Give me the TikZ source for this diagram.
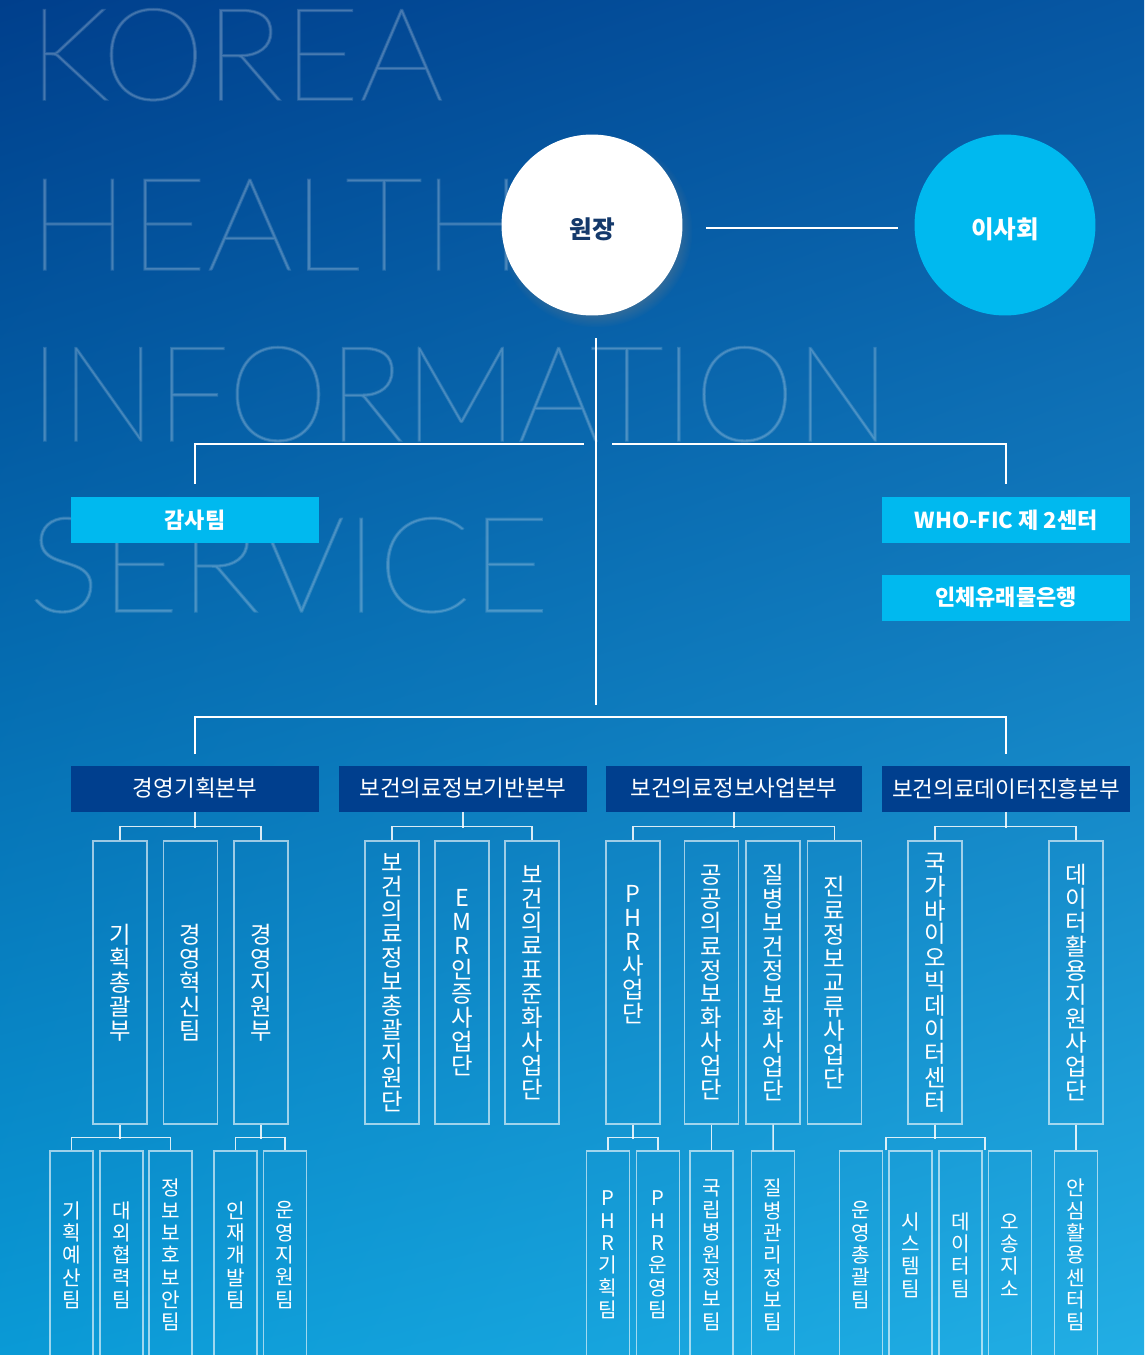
\documentclass[tikz,border=0pt]{standalone}
\usepackage{fontspec}
\usepackage{graphicx}
\setmainfont{Noto Sans CJK KR}
\IfFontExistsTF{Lato Thin}{\newfontfamily\wmfont{Lato Thin}[FakeBold=1.5]}{%
  \IfFontExistsTF{Lato Hairline}{\newfontfamily\wmfont{Lato Hairline}[FakeBold=2]}{%
    \IfFontExistsTF{Poppins Thin}{\newfontfamily\wmfont{Poppins Thin}}{\newfontfamily\wmfont{DejaVu Sans}}}}
\usetikzlibrary{calc,shadows,shadings}
\definecolor{bgtl}{HTML}{003F8C}
\definecolor{bgtr}{HTML}{0657A3}
\definecolor{bgbl}{HTML}{0A9AD6}
\definecolor{bgbr}{HTML}{22AEE4}
\definecolor{khisky}{HTML}{00B9EF}
\definecolor{khinavy}{HTML}{003F8E}
\definecolor{khiink}{HTML}{14396B}

\tikzset{
  wire/.style={white, line width=0.035cm},
  thinwire/.style={white, opacity=.85, line width=0.03cm},
  skybox/.style={fill=khisky, text=white, minimum width=4.96cm, minimum height=0.92cm, inner sep=0pt, font=\fontsize{12.5}{14}\selectfont\bfseries},
  navybox/.style={fill=khinavy, text=white, minimum width=4.96cm, minimum height=0.92cm, inner sep=0pt, font=\fontsize{12.8}{14}\selectfont},
  unitbox/.style={draw=white, draw opacity=.6, line width=0.03cm, text=white, minimum width=1.08cm, minimum height=5.66cm, inner sep=0pt, align=center, font=\fontsize{13.3}{13.6}\selectfont},
  teambox/.style={draw=white, draw opacity=.6, line width=0.03cm, text=white, minimum width=0.86cm, minimum height=4.16cm, inner sep=0pt, align=center, font=\fontsize{11.5}{12.7}\selectfont},
  watermark/.style={text=white, opacity=.15, inner sep=0pt, font=\wmfont},
  headcircle/.style={circle, minimum size=3.62cm, inner sep=0pt, font=\fontsize{14}{15}\selectfont\bfseries, text height=15pt, text depth=0pt}
}

\begin{document}
\begin{tikzpicture}[x=0.02cm, y=-0.02cm]
  \clip (0,0) rectangle (1144,1355);
  \shade[upper left=bgtl, upper right=bgtr, lower left=bgbl, lower right=bgbr] (0,0) rectangle (1144,1355);

  % lettering behind the chart
  \node[watermark, anchor=south west] (wkorea) at (28,101) {\resizebox{8.3cm}{1.82cm}{KOREA}};
  \node[watermark, anchor=south west] (whealth) at (28,270) {\resizebox{9.88cm}{1.8cm}{HEALTH}};
  \node[watermark, anchor=south west] (winfo) at (29,442) {\resizebox{17.22cm}{1.88cm}{INFORMATION}};
  \node[watermark, anchor=south west] (wservice) at (28,613) {\resizebox{10.42cm}{1.88cm}{SERVICE}};

  % top
  \node[headcircle, fill=white, circular drop shadow={shadow xshift=2pt, shadow yshift=-3pt, shadow scale=1.07, opacity=.35}, text=khiink] (boss) at (592,225) {원장};
  \node[headcircle, fill=khisky, text=white] (board) at (1005,225) {이사회};
  \draw[wire] ([xshift=0.46cm,yshift=-0.06cm]boss.east) -- ([xshift=-0.32cm,yshift=-0.06cm]board.west);

  \coordinate (trunktop) at (596,338);
  \coordinate (trunkend) at (596,705);
  \coordinate (lgap) at (584,444);
  \coordinate (rgap) at (612,444);
  \draw[wire] (trunktop) -- (trunkend);

  \node[skybox] (audit) at (195,520) {감사팀};
  \node[skybox] (whofic) at (1006,520) {WHO-FIC 제 2센터};
  \node[skybox] (biobank) at (1006,597.5) {인체유래물은행};
  \draw[wire] ([yshift=0.26cm]audit.north) |- (lgap);
  \draw[wire] ([yshift=0.26cm]whofic.north) |- (rgap);

  % 본부
  \node[navybox] (d1) at (195,788.5) {경영기획본부};
  \node[navybox] (d2) at (463,788.5) {보건의료정보기반본부};
  \node[navybox, minimum width=5.12cm] (d3) at (734,788.5) {보건의료정보사업본부};
  \node[navybox] (d4) at (1006,788.5) {보건의료데이터진흥본부};
  \draw[wire] ([yshift=0.22cm]d1.north) -- ++(0,-37) -| ([yshift=0.22cm]d4.north);

  % 부, 단
  \node[unitbox] (u11) at (120,982.5) {기\\획\\총\\괄\\부};
  \node[unitbox] (u12) at (190.5,982.5) {경\\영\\혁\\신\\팀};
  \node[unitbox] (u13) at (261,982.5) {경\\영\\지\\원\\부};
  \node[unitbox] (u21) at (392,982.5) {보\\건\\의\\료\\정\\보\\총\\괄\\지\\원\\단};
  \node[unitbox] (u22) at (462,982.5) {E\\M\\R\\인\\증\\사\\업\\단};
  \node[unitbox] (u23) at (532,982.5) {보\\건\\의\\료\\표\\준\\화\\사\\업\\단};
  \node[unitbox] (u31) at (633,982.5) {P\\H\\R\\사\\업\\단\\[19pt]\mbox{}};
  \node[unitbox] (u32) at (711.5,982.5) {공\\공\\의\\료\\정\\보\\화\\사\\업\\단};
  \node[unitbox] (u33) at (773,982.5) {질\\병\\보\\건\\정\\보\\화\\사\\업\\단};
  \node[unitbox] (u34) at (834.5,982.5) {진\\료\\정\\보\\교\\류\\사\\업\\단};
  \node[unitbox] (u41) at (935,982.5) {국\\가\\바\\이\\오\\빅\\데\\이\\터\\센\\터};
  \node[unitbox] (u42) at (1076,982.5) {데\\이\\터\\활\\용\\지\\원\\사\\업\\단};

  \draw[thinwire] (d1.south) -- ++(0,16);
  \draw[thinwire] (u11.north) -- ++(0,-14) -| (u13.north);
  \draw[thinwire] (d2.south) -- ++(0,16);
  \draw[thinwire] (u21.north) -- ++(0,-14) -| (u23.north);
  \draw[thinwire] (d3.south) -- ++(0,16);
  \draw[thinwire] (u31.north) -- ++(0,-14) -| (u34.north);
  \draw[thinwire] (d4.south) -- ++(0,16);
  \draw[thinwire] (u41.north) -- ++(0,-14) -| (u42.north);

  % 팀
  \node[teambox] (t11) at (71.5,1255) {기\\획\\예\\산\\팀};
  \node[teambox] (t12) at (121.3,1255) {대\\외\\협\\력\\팀};
  \node[teambox] (t13) at (170.7,1255) {정\\보\\보\\호\\보\\안\\팀};
  \node[teambox] (t14) at (235.5,1255) {인\\재\\개\\발\\팀};
  \node[teambox] (t15) at (285.2,1255) {운\\영\\지\\원\\팀};
  \node[teambox] (t31) at (607.8,1255) {P\\H\\R\\기\\획\\팀};
  \node[teambox] (t32) at (657.8,1255) {P\\H\\R\\운\\영\\팀};
  \node[teambox] (t33) at (711.5,1255) {국\\립\\병\\원\\정\\보\\팀};
  \node[teambox] (t34) at (773.2,1255) {질\\병\\관\\리\\정\\보\\팀};
  \node[teambox] (t41) at (861.1,1255) {운\\영\\총\\괄\\팀};
  \node[teambox] (t42) at (910.5,1255) {시\\스\\템\\팀};
  \node[teambox] (t43) at (960.5,1255) {데\\이\\터\\팀};
  \node[teambox] (t44) at (1009.8,1255) {오\\송\\지\\소};
  \node[teambox] (t45) at (1076,1255) {안\\심\\활\\용\\센\\터\\팀};

  \draw[thinwire] (u11.south) -- ++(0,14);
  \draw[thinwire] (t11.north) -- ++(0,-13) -| (t13.north);
  \draw[thinwire] (u13.south) -- ++(0,14);
  \draw[thinwire] (t14.north) -- ++(0,-13) -| (t15.north);
  \draw[thinwire] (u31.south) -- ++(0,14);
  \draw[thinwire] (t31.north) -- ++(0,-13) -| (t32.north);
  \draw[thinwire] (u32.south) -- (t33.north);
  \draw[thinwire] (u33.south) -- (t34.north);
  \draw[thinwire] (u41.south) -- ++(0,14);
  \draw[thinwire] ($(t41.north east)!.5!(t42.north west)$) -- ++(0,-13) -| ($(t43.north east)!.5!(t44.north west)$);
  \draw[thinwire] (u42.south) -- (t45.north);
\end{tikzpicture}
\end{document}
